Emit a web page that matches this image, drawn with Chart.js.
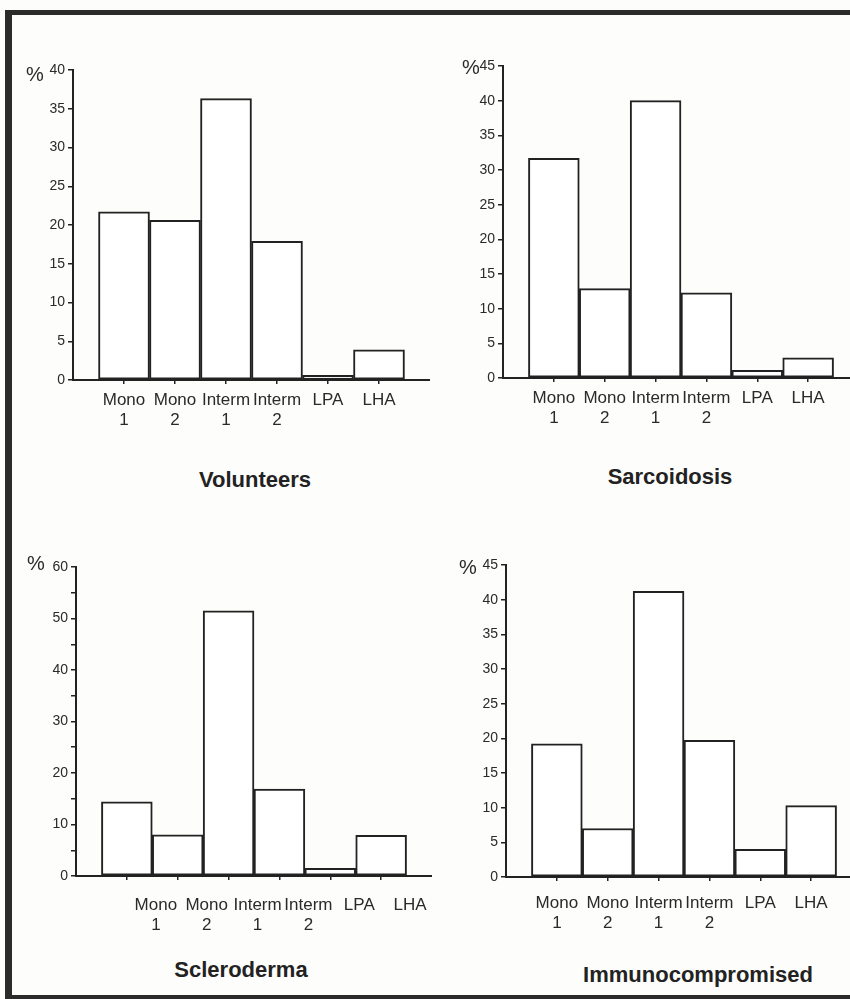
<!DOCTYPE html>
<html>
<head>
<meta charset="utf-8">
<script src="https://cdn.jsdelivr.net/npm/chart.js@4"></script>
<style>
  html, body { margin: 0; padding: 0; background: #fff; overflow: hidden; }
  #page { position: relative; width: 850px; height: 999px; overflow: hidden; background: #fdfdfb; }
  #frame {
    position: absolute; left: 5px; top: 10px; width: 900px; height: 980px;
    border-top: 5px solid #2b2b2b; border-left: 7px solid #2b2b2b; border-bottom: 5px solid #2b2b2b;
  }
  .panel { position: absolute; }
  .pct { position: absolute; font: 20px "Liberation Sans", Arial, sans-serif; color: #2a2a2a; line-height: 20px; }
  .ttl { position: absolute; font: bold 22px "Liberation Sans", Arial, sans-serif; color: #222;
         line-height: 22px; transform: translate(-50%, -50%); white-space: nowrap; }
</style>
</head>
<body>
<div id="page">
  <div id="frame"></div>
</div>
<script>
/* ── colours ── */
const C = {
  ink  : '#222',
  text : '#2a2a2a',
  fill : '#ffffff',
};

/* ── categories (x axis, two-line labels) ── */
const CATEGORIES = [['Mono', '1'], ['Mono', '2'], ['Interm', '1'], ['Interm', '2'], 'LPA', 'LHA'];

/* ── % of cells per group ── */
const VOLUNTEERS        = [21.7, 20.6, 36.3, 17.9, 0.6, 3.9];
const SARCOIDOSIS       = [31.7, 12.9, 40.0, 12.3, 1.1, 2.9];
const SCLERODERMA       = [14.4,  8.0, 51.5, 16.9, 1.5, 7.9];
const IMMUNOCOMPROMISED = [19.2,  7.0, 41.2, 19.7, 4.0, 10.3];

/* ── y axis ranges / ticks (max, minor step, labelled step) ── */
const Y_MAX   = [40, 45, 60, 45];
const Y_STEP  = [2.5, 2.5, 5, 2.5];
const Y_LABEL = [5, 5, 10, 5];

const TITLES = ['Volunteers', 'Sarcoidosis', 'Scleroderma', 'Immunocompromised'];
const SERIES = [VOLUNTEERS, SARCOIDOSIS, SCLERODERMA, IMMUNOCOMPROMISED];

/* ── panel placement on the page ── */
const PANELS = [
  { left: 23,  top: 58,  w: 407, h: 382, labelPad: 6,  labelShift: 0,  pct: [26, 64],  title: [255, 480] },
  { left: 453, top: 54,  w: 406, h: 384, labelPad: 6,  labelShift: 0,  pct: [462, 57], title: [670, 477] },
  { left: 26,  top: 555, w: 406, h: 381, labelPad: 15, labelShift: 29, pct: [27, 553], title: [241, 970] },
  { left: 456, top: 553, w: 406, h: 384, labelPad: 12, labelShift: 0,  pct: [459, 557], title: [698, 975] },
];

Chart.defaults.font = { family: "'Liberation Sans', Arial, sans-serif", size: 14 };
Chart.defaults.color = C.text;

const page = document.getElementById('page');

function addText(cls, txt, x, y) {
  const d = document.createElement('div');
  d.className = cls;
  d.textContent = txt;
  d.style.left = x + 'px';
  d.style.top = y + 'px';
  page.appendChild(d);
}

function makePanel(i) {
  const p = PANELS[i];
  const box = document.createElement('div');
  box.className = 'panel';
  box.style.left = p.left + 'px';
  box.style.top = p.top + 'px';
  box.style.width = p.w + 'px';
  box.style.height = p.h + 'px';
  const cv = document.createElement('canvas');
  box.appendChild(cv);
  page.appendChild(box);

  addText('pct', '%', p.pct[0], p.pct[1]);
  addText('ttl', TITLES[i], p.title[0], p.title[1]);

  new Chart(cv, {
    type: 'bar',
    data: {
      datasets: [{
        data: SERIES[i].map((v, k) => ({ x: k + 1, y: v })),
        backgroundColor: C.fill,
        borderColor: C.ink,
        borderWidth: 2,
        borderSkipped: false,
        barPercentage: 1,
        categoryPercentage: 1,
      }]
    },
    options: {
      responsive: true,
      maintainAspectRatio: false,
      animation: false,
      layout: { padding: { top: 12, left: 0, right: 0, bottom: 0 } },
      plugins: { legend: { display: false }, tooltip: { enabled: false } },
      scales: {
        x: {
          type: 'linear',
          min: 0, max: 7,
          offset: false,
          afterBuildTicks: s => { s.ticks = CATEGORIES.map((_, k) => ({ value: k + 1 })); },
          afterFit: s => { s.height = 60; },
          grid: { offset: false, drawOnChartArea: false, drawTicks: true, tickLength: 4, color: C.ink, lineWidth: 1.5 },
          border: { display: true, color: C.ink, width: 2 },
          ticks: {
            autoSkip: false, maxRotation: 0, minRotation: 0,
            padding: p.labelPad,
            labelOffset: p.labelShift,
            font: { size: 17, lineHeight: 1.2 },
            color: C.text,
            callback: v => CATEGORIES[v - 1],
          }
        },
        y: {
          min: 0, max: Y_MAX[i],
          afterFit: s => { s.width = 50; },
          grid: { drawOnChartArea: false, drawTicks: true, tickLength: 5, color: C.ink, lineWidth: 1.5 },
          border: { display: true, color: C.ink, width: 2 },
          ticks: {
            stepSize: Y_STEP[i],
            padding: 3,
            color: C.text,
            font: { size: 14 },
            callback: v => (v % Y_LABEL[i] === 0 ? v : ''),
          }
        }
      }
    }
  });
}

PANELS.forEach((_, i) => makePanel(i));
</script>
</body>
</html>
